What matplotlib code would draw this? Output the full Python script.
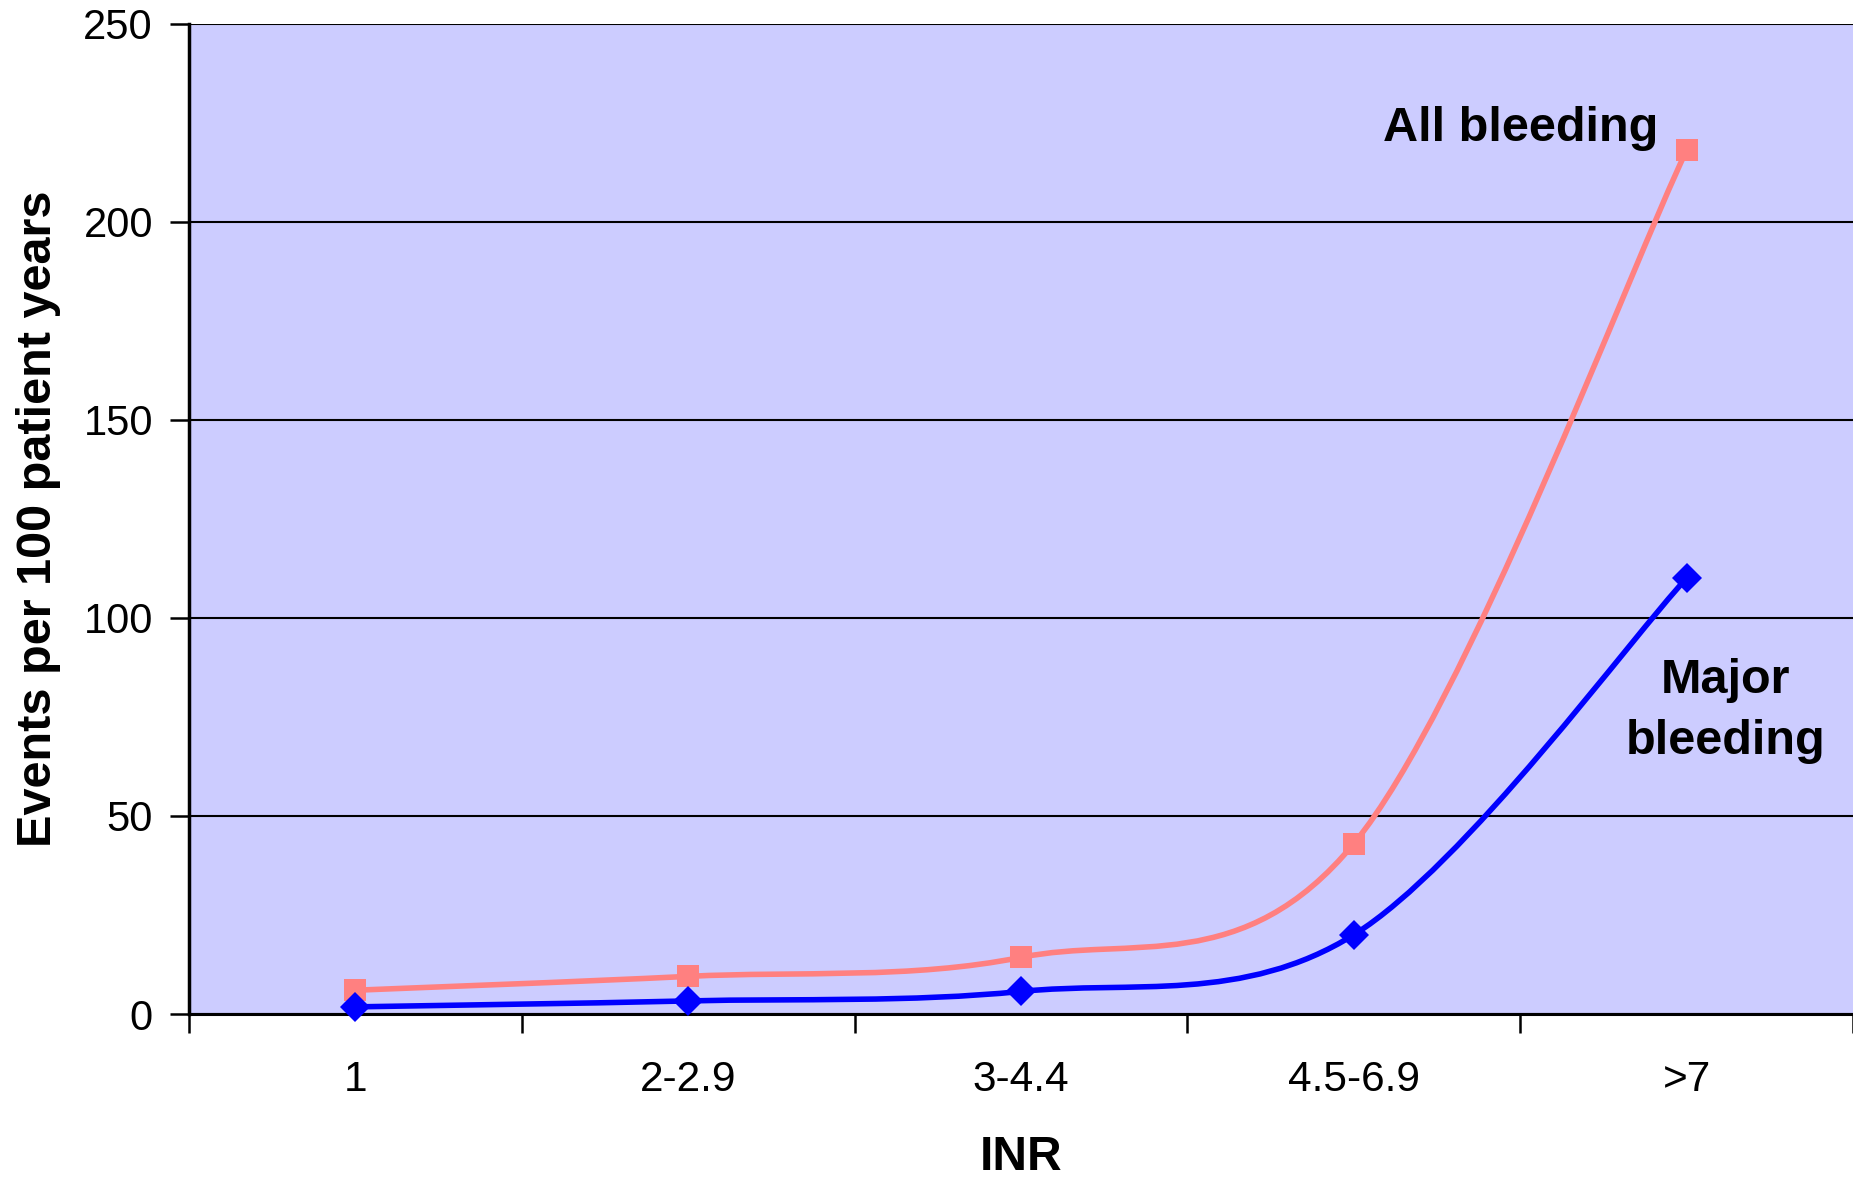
import matplotlib
matplotlib.use("Agg")
import matplotlib.pyplot as plt
from matplotlib.path import Path
from matplotlib.patches import PathPatch
import numpy as np

plt.rcParams['font.family'] = ['Liberation Sans', 'DejaVu Sans']

categories = ["1", "2-2.9", "3-4.4", "4.5-6.9", ">7"]
all_bleeding = [6, 9.5, 14.3, 43, 218]
major_bleeding = [1.8, 3.3, 5.7, 20, 110]
y_ticks = [0, 50, 100, 150, 200, 250]

BG = "#CCCCFF"
PINK = "#FF8080"
BLUE = "#0000FF"


def smooth_path(xs, ys):
    """Cubic Bezier path through the points (Catmull-Rom style smoothing)."""
    pts = np.column_stack([xs, ys]).astype(float)
    n = len(pts)
    verts = [pts[0]]
    codes = [Path.MOVETO]
    for i in range(n - 1):
        p0 = pts[i - 1] if i > 0 else pts[i]
        p1 = pts[i]
        p2 = pts[i + 1]
        p3 = pts[i + 2] if i + 2 < n else pts[i + 1]
        c1 = p1 + (p2 - p0) / 6.0
        c2 = p2 - (p3 - p1) / 6.0
        verts += [c1, c2, p2]
        codes += [Path.CURVE4] * 3
    return Path(verts, codes)


fig = plt.figure(figsize=(18.53, 11.80), dpi=100)
ax = fig.add_axes([189 / 1853, 166 / 1180, 1 - 189 / 1853, (1014 - 23.6) / 1180])
ax.set_facecolor(BG)

x = np.arange(len(categories)) + 0.5

for vals, color, marker, ms in [(all_bleeding, PINK, "s", 16),
                                (major_bleeding, BLUE, "D", 15)]:
    ax.add_patch(PathPatch(smooth_path(x, vals), facecolor="none",
                           edgecolor=color, lw=4.0, zorder=3,
                           capstyle="round", joinstyle="round"))
    ax.plot(x, vals, linestyle="none", marker=marker, markersize=ms,
            color=color, markeredgewidth=0, zorder=4, clip_on=False)

ax.set_xlim(0, len(categories))
ax.set_ylim(0, 250)

ax.set_yticks(y_ticks)
ax.set_yticklabels([str(v) for v in y_ticks], fontsize=30)
ax.yaxis.grid(True, color="black", lw=1.5)
ax.set_axisbelow(True)

ax.set_xticks(np.arange(len(categories) + 1))
ax.set_xticklabels([])
ax.set_xticks(x, minor=True)
ax.set_xticklabels(categories, minor=True, fontsize=30.5)
ax.tick_params(axis="x", which="minor", length=0, pad=33)
ax.tick_params(axis="x", which="major", length=14, width=1.8, direction="out")
ax.tick_params(axis="y", length=14, width=1.8, direction="out", pad=12)

for side in ["top", "right"]:
    ax.spines[side].set_visible(False)
ax.spines["left"].set_linewidth(2.5)
ax.spines["bottom"].set_linewidth(2.2)

ax.set_ylabel("Events per 100 patient years", fontsize=35, fontweight="bold", labelpad=16)
fig.text(ax.get_position().x0 + 2.5 / 5 * ax.get_position().width, 1 - 1158 / 1180,
         "INR", fontsize=34.5, fontweight="bold", ha="center", va="center")

ax.text(4.0, 223.5, "All bleeding", fontsize=35, fontweight="bold",
        ha="center", va="center", zorder=5)
ax.text(4.617, 76.5, "Major\nbleeding", fontsize=35, fontweight="bold",
        ha="center", va="center", linespacing=1.45, zorder=5)

fig.savefig("out.png", dpi=100, facecolor="white")
